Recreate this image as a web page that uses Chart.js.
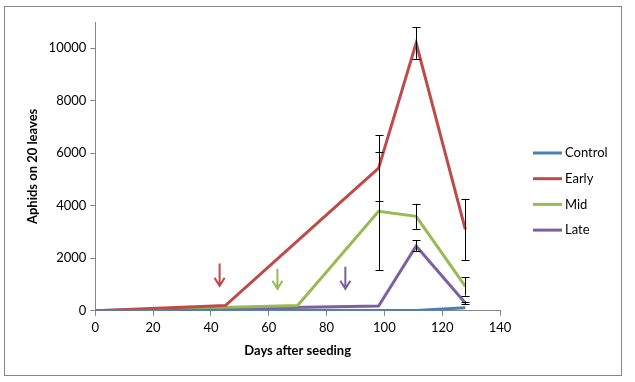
<!DOCTYPE html>
<html>
<head>
<meta charset="utf-8">
<script src="https://cdn.jsdelivr.net/npm/chart.js@4"></script>
<style>
  body { margin: 0; background: #fff; }
  #wrap { position: relative; width: 635px; height: 382px; }
  #frame { position: absolute; left: 4px; top: 6px; width: 618px; height: 370px; border: 1px solid #868686; box-sizing: border-box; }
  canvas { position: absolute; left: 0; top: 0; }
</style>
</head>
<body>
<div id="wrap">
  <div id="frame"></div>
  <canvas id="canvas" width="635" height="382"></canvas>
</div>
<script>
const xTicks = [0, 20, 40, 60, 80, 100, 120, 140];
const yTicks = [0, 2000, 4000, 6000, 8000, 10000];

const seriesNames = ["Control", "Early", "Mid", "Late"];
const seriesColors = ["#4A7EBB", "#BE4B48", "#98B954", "#7D60A0"];

const controlDays = [0, 45, 98, 111, 128];
const controlValues = [0, 20, 10, 10, 120];
const controlErrors = [0, 0, 0, 0, 0];

const earlyDays = [0, 45, 98, 111, 128];
const earlyValues = [0, 200, 5430, 10200, 3100];
const earlyErrors = [0, 0, 1250, 600, 1160];

const midDays = [0, 70, 98, 111, 128];
const midValues = [0, 200, 3790, 3600, 930];
const midErrors = [0, 0, 2255, 475, 350];

const lateDays = [0, 98, 111, 128];
const lateValues = [0, 180, 2470, 300];
const lateErrors = [0, 0, 210, 50];

// treatment arrows: day, top value, bottom value
const arrowDays = [43, 63, 86.5];
const arrowTops = [1800, 1600, 1680];
const arrowBottoms = [950, 840, 840];
const arrowColors = ["#BE4B48", "#98B954", "#7D60A0"];

const allDays = [controlDays, earlyDays, midDays, lateDays];
const allValues = [controlValues, earlyValues, midValues, lateValues];
const allErrors = [controlErrors, earlyErrors, midErrors, lateErrors];

const FONT = "Lato, 'Open Sans', sans-serif";

const datasets = seriesNames.map((name, i) => ({
  label: name,
  data: allDays[i].map((d, j) => ({ x: d, y: allValues[i][j] })),
  errors: allErrors[i],
  borderColor: seriesColors[i],
  backgroundColor: seriesColors[i],
  borderWidth: 3,
  pointRadius: 0,
  tension: 0,
}));

const extras = {
  id: "extras",
  afterDatasetsDraw(chart) {
    const ctx = chart.ctx;
    const xs = chart.scales.x;
    const ys = chart.scales.y;
    ctx.save();
    // error bars
    ctx.strokeStyle = "#000";
    ctx.lineWidth = 1;
    chart.data.datasets.forEach((ds) => {
      ds.data.forEach((p, j) => {
        const e = ds.errors[j];
        if (!e) return;
        const px = Math.round(xs.getPixelForValue(p.x)) + 0.5;
        const top = ys.getPixelForValue(p.y + e);
        const bot = ys.getPixelForValue(Math.max(p.y - e, 0));
        ctx.beginPath();
        ctx.moveTo(px, top); ctx.lineTo(px, bot);
        ctx.moveTo(px - 4, Math.round(top) + 0.5); ctx.lineTo(px + 4, Math.round(top) + 0.5);
        ctx.moveTo(px - 4, Math.round(bot) + 0.5); ctx.lineTo(px + 4, Math.round(bot) + 0.5);
        ctx.stroke();
      });
    });
    // arrows
    ctx.lineWidth = 2;
    arrowDays.forEach((d, i) => {
      const px = xs.getPixelForValue(d);
      const t = ys.getPixelForValue(arrowTops[i]);
      const b = ys.getPixelForValue(arrowBottoms[i]);
      ctx.strokeStyle = arrowColors[i];
      ctx.beginPath();
      ctx.moveTo(px, t); ctx.lineTo(px, b);
      ctx.moveTo(px - 5, b - 8); ctx.lineTo(px, b); ctx.lineTo(px + 5, b - 8);
      ctx.stroke();
    });
    // legend at the right
    ctx.font = "13px " + FONT;
    ctx.textBaseline = "middle";
    ctx.textAlign = "left";
    seriesNames.forEach((name, i) => {
      const y = 153 + i * 25.7;
      ctx.strokeStyle = seriesColors[i];
      ctx.lineWidth = 3;
      ctx.beginPath();
      ctx.moveTo(533, y); ctx.lineTo(562, y);
      ctx.stroke();
      ctx.fillStyle = "#000";
      ctx.fillText(name, 565, y);
    });
    ctx.restore();
  },
};

const ctx = document.getElementById("canvas").getContext("2d");
new Chart(ctx, {
  type: "line",
  data: { datasets: datasets },
  plugins: [extras],
  options: {
    responsive: false,
    animation: false,
    layout: { padding: { left: 21, right: 135, top: 22, bottom: 19 } },
    plugins: {
      tooltip: { enabled: false },
      legend: { display: false },
    },
    scales: {
      x: {
        type: "linear",
        min: 0,
        max: 140,
        afterBuildTicks: (s) => { s.ticks = xTicks.map((v) => ({ value: v })); },
        ticks: { color: "#000", font: { family: FONT, size: 13 }, padding: 4, callback: (v) => String(v) },
        grid: { display: true, drawOnChartArea: false, tickLength: 5, color: "#868686" },
        border: { color: "#868686" },
        title: { display: true, text: "Days after seeding", color: "#000", font: { family: FONT, size: 13, weight: "bold" } },
      },
      y: {
        min: 0,
        max: 11000,
        afterBuildTicks: (s) => { s.ticks = yTicks.map((v) => ({ value: v })); },
        ticks: { color: "#000", font: { family: FONT, size: 13 }, padding: 4, callback: (v) => String(v) },
        grid: { display: true, drawOnChartArea: false, tickLength: 5, color: "#868686" },
        border: { color: "#868686" },
        title: { display: true, text: "Aphids on 20 leaves", color: "#000", font: { family: FONT, size: 13, weight: "bold" } },
      },
    },
  },
});
</script>
</body>
</html>
